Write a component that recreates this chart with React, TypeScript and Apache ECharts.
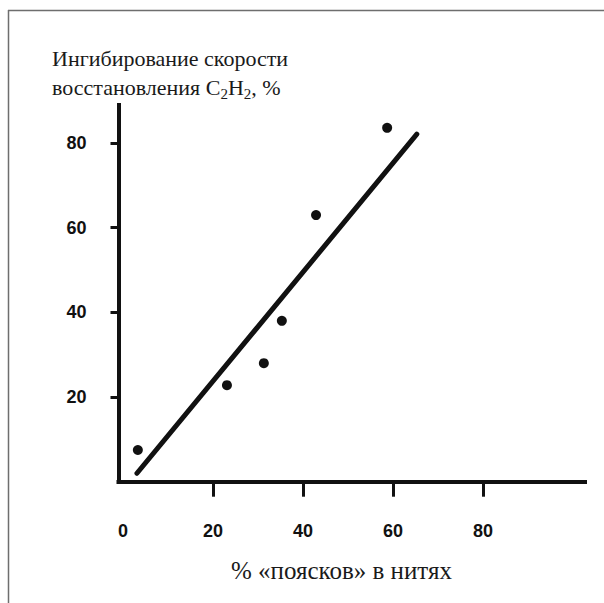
import React, { useEffect, useRef } from "react";
import * as echarts from "echarts";

const pointsX = [3.3, 23.1, 31.3, 35.3, 42.9, 58.7];
const pointsY = [7.5, 22.8, 28.0, 38.0, 63.0, 83.6];
const fitLineX = [3.1, 65.3];
const fitLineY = [2.0, 82.1];
const xTickLabels = [0, 20, 40, 60, 80];
const xTicks = [20, 40, 60, 80];
const yTickLabels = [20, 40, 60, 80];
const yTitle = "Ингибирование скорости\nвосстановления C{sub|2}H{sub|2}, %";
const xTitle = "% «поясков» в нитях";

export default function App() {
  const ref = useRef<HTMLDivElement>(null);
  useEffect(() => {
    if (!ref.current) return;
    const chart = echarts.init(ref.current, undefined, { renderer: "svg" });
    const ink = "#111";
    chart.setOption({
      animation: false,
      backgroundColor: "#fff",
      grid: { left: 118.5, top: 105, width: 466.5, height: 376.7, containLabel: false },
      xAxis: {
        type: "value",
        min: -1,
        max: 102.67,
        splitLine: { show: false },
        axisLine: { show: true, onZero: false, lineStyle: { color: ink, width: 4, cap: "square" } },
        axisTick: { show: true, customValues: xTicks, length: 15, lineStyle: { color: ink, width: 3 } },
        axisLabel: {
          customValues: xTickLabels,
          margin: 40,
          color: ink,
          fontFamily: "Liberation Sans",
          fontWeight: "bold",
          fontSize: 18,
        },
      },
      yAxis: {
        type: "value",
        min: 0,
        max: 89,
        splitLine: { show: false },
        axisLine: { show: true, onZero: false, lineStyle: { color: ink, width: 4, cap: "square" } },
        axisTick: { show: true, customValues: yTickLabels, length: 8, lineStyle: { color: ink, width: 3 } },
        axisLabel: {
          customValues: yTickLabels,
          margin: 32,
          color: ink,
          fontFamily: "Liberation Sans",
          fontWeight: "bold",
          fontSize: 18,
        },
      },
      series: [
        {
          type: "line",
          data: fitLineX.map((x, i) => [x, fitLineY[i]]),
          showSymbol: false,
          symbol: "none",
          lineStyle: { color: ink, width: 5, cap: "round" },
          z: 2,
        },
        {
          type: "scatter",
          data: pointsX.map((x, i) => [x, pointsY[i]]),
          symbol: "circle",
          symbolSize: 10,
          itemStyle: { color: ink, opacity: 1 },
          z: 3,
        },
      ],
      graphic: [
        { type: "line", shape: { x1: 8, y1: 10.5, x2: 604, y2: 10.5 }, style: { stroke: "#6e6e6e", lineWidth: 1.5 } },
        { type: "line", shape: { x1: 8.5, y1: 10, x2: 8.5, y2: 603 }, style: { stroke: "#6e6e6e", lineWidth: 1.5 } },
        {
          type: "text",
          x: 52,
          y: 43.5,
          style: {
            text: yTitle,
            fontFamily: "Liberation Serif",
            fontSize: 22,
            lineHeight: 29,
            fill: "#1a1a1a",
            align: "left",
            verticalAlign: "top",
            rich: {
              sub: { fontFamily: "Liberation Serif", fontSize: 15, lineHeight: 8, verticalAlign: "bottom", fill: "#1a1a1a" },
            },
          },
        },
        {
          type: "text",
          x: 341.5,
          y: 570.5,
          style: {
            text: xTitle,
            fontFamily: "Liberation Serif",
            fontSize: 25,
            fill: "#1a1a1a",
            align: "center",
            verticalAlign: "middle",
          },
        },
      ],
    });
    return () => chart.dispose();
  }, []);
  return <div ref={ref} style={{ position: "absolute", left: 0, top: 0, width: 604, height: 603 }} />;
}
